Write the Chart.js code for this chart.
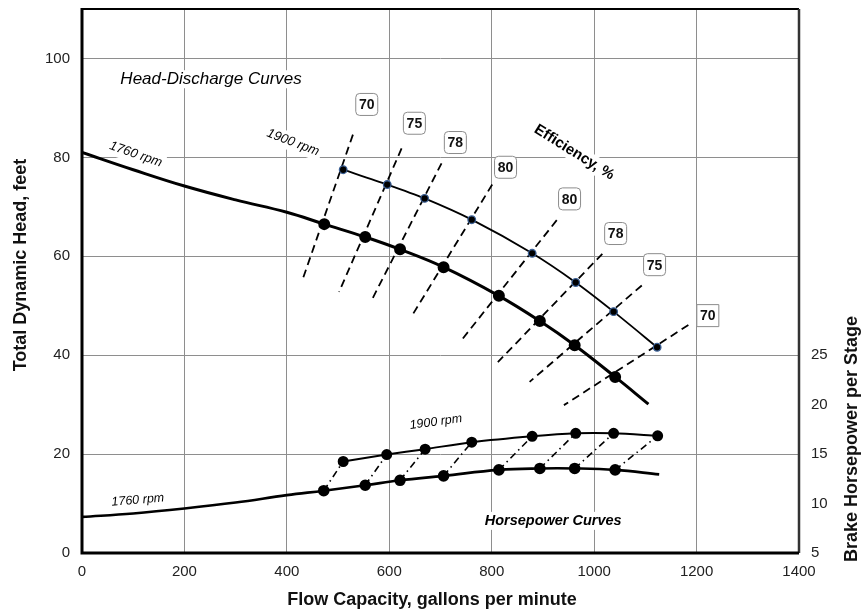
<!DOCTYPE html>
<html>
<head>
<meta charset="utf-8">
<script src="https://cdn.jsdelivr.net/npm/chart.js@4"></script>
<style>
  html, body { margin: 0; padding: 0; background: #fff; }
  #wrap { width: 862px; height: 611px; }
</style>
</head>
<body>
<div id="wrap"><canvas id="pumpChart" width="862" height="611"></canvas></div>
<script>
// head-discharge, 1760 rpm (feet)
const hd1760X = [0, 100, 200, 300, 400, 473, 553, 621, 706, 814, 894, 962, 1041, 1106];
const hd1760Y = [81.0, 77.5, 74.2, 71.4, 68.9, 66.5, 63.9, 61.4, 57.8, 52.0, 46.9, 42.0, 35.6, 30.1];
const hd1760Dot = [0, 0, 0, 0, 0, 1, 1, 1, 1, 1, 1, 1, 1, 0];

// head-discharge, 1900 rpm (feet)
const hd1900X = [510, 596, 669, 761, 879, 964, 1038, 1123];
const hd1900Y = [77.5, 74.5, 71.7, 67.4, 60.6, 54.7, 48.8, 41.6];

// horsepower per stage
const hp1760X = [0, 100, 200, 300, 400, 472, 553, 621, 706, 814, 894, 962, 1041, 1127];
const hp1760Y = [8.65, 9.0, 9.5, 10.1, 10.85, 11.3, 11.85, 12.35, 12.8, 13.4, 13.55, 13.55, 13.4, 12.95];
const hp1760Dot = [0, 0, 0, 0, 0, 1, 1, 1, 1, 1, 1, 1, 1, 0];
const hp1900X = [510, 595, 670, 761, 879, 964, 1038, 1124];
const hp1900Y = [14.25, 14.95, 15.5, 16.2, 16.8, 17.1, 17.1, 16.85];

// efficiency lines (%)
const effLabels = ['70', '75', '78', '80', '80', '78', '75', '70'];
const effTopX = [529, 624, 702, 801, 927, 1016, 1093, 1184];
const effTopY = [84.6, 81.8, 78.8, 74.5, 67.3, 60.5, 54.1, 46.1];
const effBotX = [429, 502, 564, 642, 740, 812, 874, 941];
const effBotY = [54.8, 52.8, 50.8, 47.6, 42.9, 38.6, 34.6, 29.9];
const effTagX = [556, 649, 729, 827, 952, 1042, 1118, 1222];
const effTagY = [90.7, 86.9, 83.0, 78.0, 71.6, 64.6, 58.3, 48.0];

const xTicks = [0, 200, 400, 600, 800, 1000, 1200, 1400];
const yTicks = [0, 20, 40, 60, 80, 100];
const hpTicks = [5, 10, 15, 20, 25];

const FONT = '"Liberation Sans", Arial, sans-serif';

const pts = (xs, ys) => xs.map((x, i) => ({ x, y: ys[i] }));

// notes drawn on the plot, in data coordinates
const notes = [
  { text: 'Head-Discharge Curves', x: 252, y: 95.8, rot: 0, font: 'italic 17px ' + FONT },
  { text: '1760 rpm', x: 105, y: 80.6, rot: 19, font: 'italic 13px ' + FONT },
  { text: '1900 rpm', x: 412, y: 83.0, rot: 21, font: 'italic 13px ' + FONT },
  { text: 'Efficiency, %', x: 961, y: 81.0, rot: 32, font: 'bold 15px ' + FONT },
  { text: '1900 rpm', x: 691, y: 26.5, rot: -8, font: 'italic 12.5px ' + FONT },
  { text: '1760 rpm', x: 109, y: 10.7, rot: -5, font: 'italic 12.5px ' + FONT },
  { text: 'Horsepower Curves', x: 920, y: 6.5, rot: 0, font: 'bold italic 14.5px ' + FONT }
];

const datasets = [];

datasets.push({
  data: pts(hd1760X, hd1760Y),
  borderColor: '#000', backgroundColor: '#000', borderWidth: 3,
  tension: 0.4,
  pointRadius: c => hd1760Dot[c.dataIndex] ? 4.5 : 0,
  order: 0
});
datasets.push({
  data: pts(hd1900X, hd1900Y),
  borderColor: '#000', borderWidth: 1.8,
  tension: 0.25,
  pointRadius: 3.8, pointBackgroundColor: '#000',
  pointBorderColor: '#3a5f95', pointBorderWidth: 1.3,
  order: 0
});
datasets.push({
  data: pts(hp1760X, hp1760Y), yAxisID: 'y2',
  borderColor: '#000', backgroundColor: '#000', borderWidth: 2.6,
  tension: 0.4,
  pointRadius: c => hp1760Dot[c.dataIndex] ? 4.5 : 0,
  order: 0
});
datasets.push({
  data: pts(hp1900X, hp1900Y), yAxisID: 'y2',
  borderColor: '#000', backgroundColor: '#000', borderWidth: 2,
  tension: 0.3,
  pointRadius: 4.5,
  order: 0
});

effLabels.forEach((lab, i) => {
  datasets.push({
    data: [{ x: effTopX[i], y: effTopY[i] }, { x: effBotX[i], y: effBotY[i] }],
    borderColor: '#000', borderWidth: 1.8, borderDash: [8, 5],
    pointRadius: 0, order: 2
  });
});

// dash-dot links between matching hp points
hp1900X.forEach((x, i) => {
  const j = i + 5;
  datasets.push({
    data: [{ x: hp1760X[j], y: hp1760Y[j] }, { x, y: hp1900Y[i] }], yAxisID: 'y2',
    borderColor: '#000', borderWidth: 1.6, borderDash: [7, 4, 1.5, 4],
    pointRadius: 0, order: 2
  });
});

function textBox(ctx, n, px, py) {
  ctx.save();
  ctx.translate(px, py);
  ctx.rotate(n.rot * Math.PI / 180);
  ctx.font = n.font;
  const w = ctx.measureText(n.text).width;
  ctx.fillStyle = '#fff';
  ctx.fillRect(-w / 2 - 3, -9, w + 6, 18);
  ctx.fillStyle = '#000';
  ctx.textAlign = 'center';
  ctx.textBaseline = 'middle';
  ctx.fillText(n.text, 0, 0);
  ctx.restore();
}

function roundBox(ctx, x, y, w, h, r) {
  ctx.beginPath();
  ctx.moveTo(x + r, y);
  ctx.lineTo(x + w - r, y);
  ctx.quadraticCurveTo(x + w, y, x + w, y + r);
  ctx.lineTo(x + w, y + h - r);
  ctx.quadraticCurveTo(x + w, y + h, x + w - r, y + h);
  ctx.lineTo(x + r, y + h);
  ctx.quadraticCurveTo(x, y + h, x, y + h - r);
  ctx.lineTo(x, y + r);
  ctx.quadraticCurveTo(x, y, x + r, y);
  ctx.closePath();
}

const decor = {
  id: 'decor',
  beforeDatasetsDraw(chart) {
    const { ctx, scales } = chart;
    notes.forEach(n => textBox(ctx, n, scales.x.getPixelForValue(n.x), scales.y.getPixelForValue(n.y)));
  },
  afterDatasetsDraw(chart) {
    const { ctx, chartArea: a, scales } = chart;
    // frame
    ctx.save();
    ctx.strokeStyle = '#000';
    ctx.lineWidth = 2;
    ctx.beginPath(); ctx.moveTo(a.left, a.top); ctx.lineTo(a.right, a.top); ctx.stroke();
    ctx.strokeStyle = '#333';
    ctx.lineWidth = 2.5;
    ctx.beginPath(); ctx.moveTo(a.right, a.top); ctx.lineTo(a.right, a.bottom); ctx.stroke();
    ctx.strokeStyle = '#000';
    ctx.lineWidth = 3;
    ctx.beginPath(); ctx.moveTo(a.left, a.top - 1); ctx.lineTo(a.left, a.bottom); ctx.lineTo(a.right, a.bottom); ctx.stroke();
    ctx.restore();

    // efficiency tags
    ctx.save();
    ctx.font = 'bold 14px ' + FONT;
    ctx.textAlign = 'center';
    ctx.textBaseline = 'middle';
    effLabels.forEach((lab, i) => {
      const px = scales.x.getPixelForValue(effTagX[i]);
      const py = scales.y.getPixelForValue(effTagY[i]);
      roundBox(ctx, px - 11, py - 11, 22, 22, i === effLabels.length - 1 ? 0 : 4);
      ctx.fillStyle = '#fff';
      ctx.fill();
      ctx.strokeStyle = '#8c8c8c';
      ctx.lineWidth = 1;
      ctx.stroke();
      ctx.fillStyle = '#111';
      ctx.fillText(lab, px, py + 1);
    });
    ctx.restore();

    // axis titles
    ctx.save();
    ctx.fillStyle = '#111';
    ctx.font = 'bold 18px ' + FONT;
    ctx.textAlign = 'center';
    ctx.textBaseline = 'middle';
    ctx.fillText('Flow Capacity, gallons per minute', 432, 600);
    ctx.translate(21, 265);
    ctx.rotate(-Math.PI / 2);
    ctx.fillText('Total Dynamic Head, feet', 0, 0);
    ctx.restore();
    ctx.save();
    ctx.fillStyle = '#111';
    ctx.font = 'bold 18px ' + FONT;
    ctx.textAlign = 'center';
    ctx.textBaseline = 'middle';
    ctx.translate(852, 439);
    ctx.rotate(-Math.PI / 2);
    ctx.fillText('Brake Horsepower per Stage', 0, 0);
    ctx.restore();
  }
};

const gridColor = '#8e8e8e';
const plain = v => String(v);

new Chart(document.getElementById('pumpChart'), {
  type: 'scatter',
  data: { datasets },
  plugins: [decor],
  options: {
    responsive: false,
    animation: false,
    showLine: true,
    layout: { padding: { top: 9, left: 0, right: 0, bottom: 0 } },
    plugins: { legend: { display: false }, tooltip: { enabled: false } },
    scales: {
      x: {
        type: 'linear', min: 0, max: 1400,
        afterBuildTicks: s => { s.ticks = xTicks.map(v => ({ value: v })); },
        afterFit: s => { s.height = 58; s.paddingLeft = 0; s.paddingRight = 0; },
        grid: { color: gridColor, drawTicks: false },
        border: { display: false },
        ticks: { padding: 10, color: '#222', font: { family: FONT, size: 15 }, callback: plain }
      },
      y: {
        type: 'linear', min: 0, max: 110,
        afterBuildTicks: s => { s.ticks = yTicks.map(v => ({ value: v })); },
        afterFit: s => { s.width = 82; s.paddingTop = 0; s.paddingBottom = 0; },
        grid: { color: gridColor, drawTicks: false },
        border: { display: false },
        ticks: { padding: 12, color: '#222', font: { family: FONT, size: 15 }, callback: plain }
      },
      y2: {
        type: 'linear', position: 'right', min: 5, max: 60,
        afterBuildTicks: s => { s.ticks = hpTicks.map(v => ({ value: v })); },
        afterFit: s => { s.width = 63; s.paddingTop = 0; s.paddingBottom = 0; },
        grid: { display: false, drawTicks: false },
        border: { display: false },
        ticks: { padding: 12, color: '#222', font: { family: FONT, size: 15 }, callback: plain }
      }
    }
  }
});
</script>
</body>
</html>
